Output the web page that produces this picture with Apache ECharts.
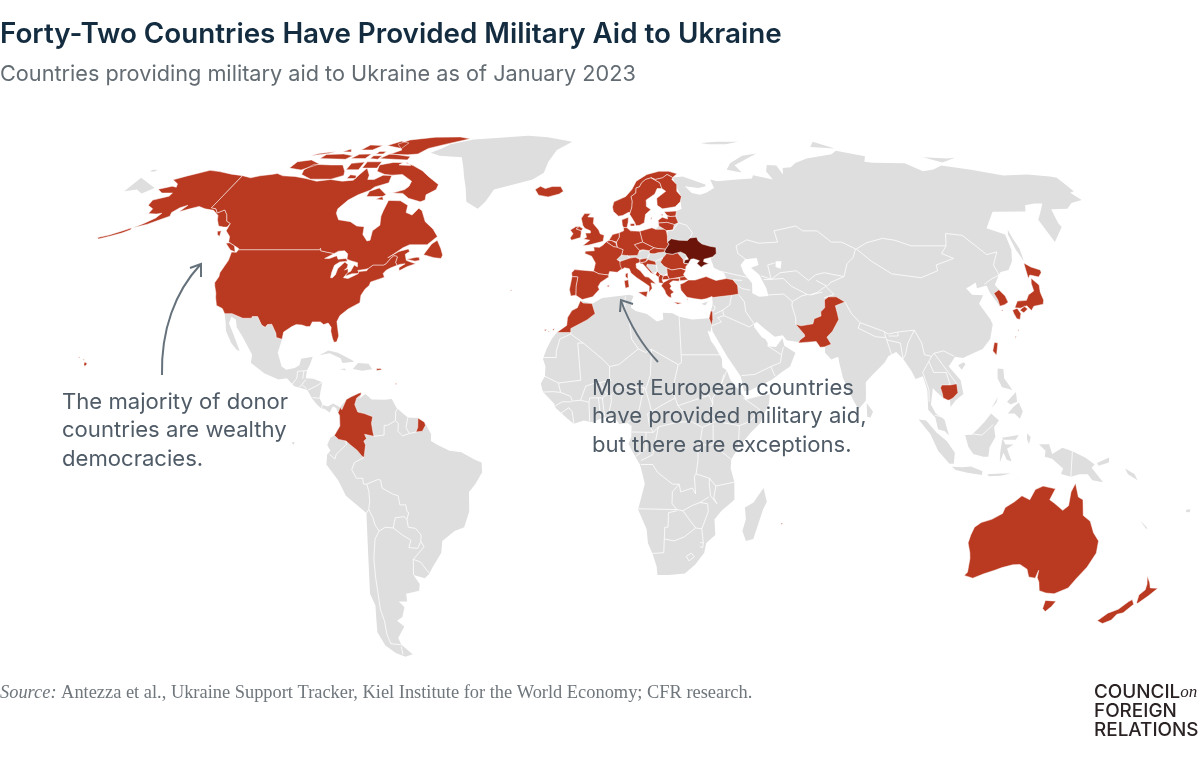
<!DOCTYPE html>
<html>
<head>
<meta charset="utf-8">
<title>Forty-Two Countries Have Provided Military Aid to Ukraine</title>
<script src="https://cdn.jsdelivr.net/npm/echarts@6/dist/echarts.min.js"></script>
<style>
  html, body { margin: 0; padding: 0; background: #fff; }
  #chart { width: 1200px; height: 758px; }
</style>
</head>
<body>
<div id="chart"></div>
<script>
const greyLand = [
  ['Eurasia', '29,69.1 33,69.4 41,67 41,66.5 38,66 33,66.5 35,64.5 38,64 40.5,64.6 44,66 43.5,68.5 46,68 54,68.5 60,68.8 61,69.8 68,68.5 67,71 68.8,73 72.5,72.8 73,70 74.5,72 78,72.3 81,73.6 87,75 100,76.5 104,77.7 113,75.8 110,74 113,73.7 126,73.5 130,71 135,71.6 140,72.8 150,71.5 160,69.7 170,70 178,69.4 180,69 180,65 178,64.6 179,62.5 174,61.7 170,60 164,59.9 163,58 162,56 162,55 157,51 156,57 159,59 163,61.5 160,61.5 156,61 154,59.3 142,59.2 135.5,54.7 141,53 140.5,49 138,46 135,43.7 132,43.2 130.7,42.3 127.7,39.8 129.4,37 129.4,35.4 126.3,34.4 125,38 125,39.7 121.5,39 122,40.5 119,39.3 118,39 119,37.3 122.5,37.2 120,35 121.8,31 122,29.8 120,26 117,23.5 113.7,22.3 110.5,21.2 108.2,21.5 105.8,19 108.8,15.5 109.2,12 106.7,10.4 105,8.7 105,10.4 103,11 101,12.7 100.2,13.5 99.2,9.3 100.5,7 103,5.5 104.2,1.4 103,2.5 101,3 100.3,6 98.3,8 98.5,13 97.6,16.5 95.3,15.8 94.3,18 92.3,21 90.5,22.7 88,21.7 86.5,20 82,16.5 80.2,15 80,12 79.8,10.3 77.5,8.1 76,10.5 73.5,16 72.8,20 72.7,21.5 70.5,20.8 68.8,22.5 69,24 66.5,25.4 61.5,25.2 57.5,25.7 56.5,27 54,26.6 51,28.8 49,30.4 48,29.9 48,29 50,26.5 51,26 51.6,25 51.5,24.2 54,24 56.3,26.2 56.6,24.3 59.8,22.5 57.8,19 55,17.5 52,15.6 45,12.8 43.5,12.7 42.7,16.5 39,21.5 35,28 34.9,29.5 34.3,31.3 35,33 35.9,35 36,36.8 36,38 36,40 39,40.8 41.5,41.5 41,43 38,44.3 37.5,46.7 39,47.2 38.2,47.1 37,48 30,48 29.3,47 28.3,45.6 27,46 25,45 23,44.5 22.6,43 21,42.3 20,42.8 19.2,43.4 18,43 17,43.2 16,44.5 16,45.2 16.5,46 14,46.7 10,46.7 8,46 6.2,46.3 6.5,47 8,47.6 10,47.7 13,48 15,48.9 17,48.5 18,48 21,48.4 22.5,48.5 24,50 23.8,52 23.7,53.5 24.5,54.5 26,55.5 27,56.5 27.5,58 28,59.4 30,60 30,61 30.5,64 29.5,67'],
  ['Chukotka', '-180,69 -175,67.5 -170,66 -172.5,64.4 -176,65.5 -180,65'],
  ['Africa', '-5.9,35.8 -2,35.1 1,36.5 5,36.9 9.7,37.3 11,37 10.2,35.5 10.1,34 11.5,33.2 15,32.4 18,30.5 20,31 20,32.7 23,32.6 25,31.7 29,31 32.3,31.2 34.2,31.3 34.9,29.5 34.3,27.8 33.1,28.3 32.5,30 33.5,28 34.3,25.5 35.5,24 37.3,21 37.3,18.8 38.6,18 39.6,15.5 42,13 43.2,11.6 44,10.5 47,11.2 51.2,11.9 50.8,9.5 48,4.5 45,2 41.5,-1.7 39.4,-4.7 39.3,-7 40.5,-10.5 40.7,-15 37,-17.8 35,-20 35.5,-24 32.9,-26 32.5,-28.5 30,-31.5 27,-33.8 22,-34.2 18.4,-34.2 18,-32 16.5,-28.7 15,-26 14.5,-22.5 11.8,-17.5 13.7,-11 13,-8.5 12.2,-6 9.5,-2 8.8,-0.7 9.6,1 9.7,3.8 8.5,4.6 6,4.3 4.5,6.3 1.2,6 -2,4.8 -4.5,5.2 -7.5,4.4 -9.3,5.6 -13,8.5 -13.4,9.5 -15,11 -16.8,12.5 -17.5,14.7 -16.3,16.5 -16.2,19 -17,21 -16,23.5 -14.5,26 -13,27.7 -10,29.5 -9.8,31.5 -8.5,33.3 -6.8,34'],
  ['Madagascar', '49.3,-12 50.5,-15.5 49.5,-17.5 47.2,-25 45,-25.5 43.7,-23 44.5,-20 44,-17 46.5,-15.7'],
  ['Mexico and Central America', '-117.1,32.5 -114.8,32.5 -111,31.33 -108.2,31.33 -108.2,31.75 -106.5,31.75 -104.5,29.6 -103.2,29 -102.7,29.7 -101.4,29.8 -99.5,27.5 -99.1,26.4 -97.2,25.95 -97.8,22.5 -96,19 -94.5,18.2 -92,18.6 -90.7,19.3 -90.4,21 -87,21.5 -87.5,19.5 -88.2,18 -88.3,16 -86,15.9 -83.2,15 -83.7,11 -82.5,9.2 -81,8.8 -79.5,9.6 -77.3,8.6 -77.9,7.2 -78.5,8.4 -79.5,8.9 -80.4,7.3 -82,8.2 -83,8.3 -84.5,9.5 -85.8,10.8 -87.5,13 -89.5,13.5 -91.5,14 -94,16 -96.5,15.7 -101,17.3 -105.5,20 -105.5,22 -108,25 -109.5,26.6 -112,29 -113,31 -114.7,31.7 -114.7,30 -112.7,27.5 -110.5,24.5 -109.5,23 -110.5,23.3 -112.5,25 -115,28 -116,30.5'],
  ['Cuba', '-85,21.9 -82.5,23.1 -79.5,22.5 -75,20.7 -74.2,20.2 -77.7,19.9 -78.5,21.1 -82,22.4'],
  ['Hispaniola', '-74.4,18.4 -71.5,17.9 -68.5,18.3 -69.8,19.7 -73,19.9'],
  ['Jamaica', '-78.3,18.3 -76.3,18 -76.9,18.5'],
  ['South America', '-77.3,8.6 -75.6,10.6 -72,12.2 -71.3,11.8 -71.8,10.8 -70,12 -68,10.6 -64,10.5 -62,10.7 -60.5,8.5 -58.5,7 -57,6 -54,5.9 -52,4.8 -50,1.8 -50,0 -48,-1 -44.5,-2.5 -41,-2.9 -37,-4.8 -35,-5.5 -34.9,-8 -37,-11 -39,-13 -39.2,-18 -41,-22 -44,-23 -48,-25.5 -48.7,-28.5 -52,-32.2 -53.5,-34 -55,-35 -58.4,-34.2 -57,-36.5 -57.6,-38.2 -62,-39 -62.3,-41 -65,-41 -63.7,-42.5 -65.3,-45 -67.5,-46 -65.7,-47.5 -69,-50.5 -68.4,-52.3 -65.2,-54.8 -68,-55.5 -71,-54.5 -74,-52.5 -75.5,-49 -74,-45 -73,-42 -73.6,-39 -71.5,-30 -70.3,-18.4 -76,-14 -78,-10 -81.3,-6 -81,-3.5 -80,-2.5 -80.9,-1 -80,0.8 -78.8,1.4 -77.2,3.8 -77.4,6.5 -77.9,7.2'],
  ['Greenland', '-73,77 -68,76 -58,75.5 -55,72 -53,69 -51,66 -49,62 -44,60 -42,62 -40,65.5 -33,67 -26,68.5 -22,70.5 -21,74 -18.6,78 -12.5,81 -25,83 -35,83.6 -50,82.7 -60,82 -68,80 -70,78.5'],
  ['Sumatra', '95.3,5.5 97.5,5.2 100.5,2.2 103.5,0 106,-3 105.8,-5.8 104.5,-5.8 101,-2.5 98.7,1.7'],
  ['Java', '105.3,-6.6 108.5,-6.7 111,-6.5 114.5,-7.7 114.4,-8.7 110,-8.1 106.5,-7.4'],
  ['Borneo', '109,1.5 111,1.6 113,3.2 115,5 117,7 119.2,5.2 117.7,3.5 118,1 116.3,-1.6 116,-4 114.5,-4 111.5,-3.3 110,-1.5'],
  ['Sulawesi', '119.5,-5.5 120.5,-3 121.5,-4.8 123,-5.2 121.5,-2 123.4,-0.9 121,-0.9 120,0.8 125,1.5 124,0.3 120,0.3 119.5,-3'],
  ['Timor', '123.5,-10.3 127,-8.4 125,-9.5'],
  ['Flores', '116,-8.5 120,-8.3 123,-8.3 120,-8.9 116.5,-9'],
  ['Halmahera', '127.5,2 128.5,1 128,-0.8 127.4,0.5'],
  ['New Guinea', '131,-0.8 134,-0.8 135,-3.3 138,-1.7 141,-2.6 145,-4.3 147.8,-6 147,-6.8 150.8,-10.5 147.5,-10 146,-8.5 143.5,-8.5 141,-9.1 138,-8.4 138.5,-7 135,-4.5 132.8,-4 133,-2.5'],
  ['New Britain', '148.5,-5.6 152,-4.2 152,-5.5 149,-6.3'],
  ['Luzon', '120.5,18.5 122.2,18.4 122,16 124,13 121,13.7 120,16'],
  ['Mindanao', '122,7 123.8,8.7 125.5,9.8 126.5,7.5 125.5,5.7 124,7'],
  ['Visayas', '122,10 125,12.5 125,10 123,9.3'],
  ['Palawan', '117.2,8.4 119.5,11.3 118.8,9.8'],
  ['Hainan', '108.7,19.3 110.5,20.1 111,19.6 109.6,18.2'],
  ['Sri Lanka', '80,9.7 81.8,7.5 81,6 80,6.2'],
  ['Sakhalin', '142,46 143.5,49.2 143,52 142.7,54.3 142,53 142,49'],
  ['Novaya Zemlya', '51.5,71.5 57,70.6 55.5,72.9 68,76.8 61,76 54,73.5'],
  ['Franz Josef Land', '47,80.5 55,81 65,81 58,80 50,80'],
  ['Severnaya Zemlya', '95,79 105,78.5 100,81'],
  ['New Siberian Islands', '137,75.5 146,75 150,75.3 142,73.8'],
  ['Wrangel', '-180,71.5 -178,71.5 -178,70.9 -180,70.9'],
  ['Cyprus', '32.3,35 34.5,35.6 33.5,34.6'],
  ['Kaliningrad', '19.8,54.4 22.8,54.4 21,55.3'],
  ['New Caledonia', '164,-20.2 167,-22.3 166.4,-22.3'],
  ['Fiji', '177.3,-17.5 178.6,-17.5 178.4,-18.2 177.3,-18.1'],
  ['Solomon Islands', '157,-7 160,-8.5 161,-10 158,-8.5'],
  ['Galapagos', '-91.5,-0.3 -90.5,-0.3 -91,-1']
];
const waterBodies = [
  ['Caspian Sea', '47,45 49,46.5 53,46.8 53,45 51,44.5 50.3,44.3 52.5,42.5 53,41 53.8,39 54,37 51,36.8 49,37.7 49.5,40.3 47.5,43'],
  ['Aral Sea', '59,46 61,46 60,44 58.5,44.5']
];
const donorShapes = [
  ['United States', '-124.7,48.4 -123,48.3 -122.8,49 -95.2,49 -95.1,49.4 -94.6,48.7 -92,48.3 -89.6,48 -92.1,46.7 -90.5,46.7 -88.4,47.4 -87.5,46.5 -85,46.7 -84.5,46.45 -84.1,46 -84.8,45.9 -86.5,45.8 -87.8,44.9 -87.8,43 -87.5,41.7 -86.9,41.7 -86.3,42.5 -86.3,44 -85.5,45 -84.8,45.75 -83.4,45.1 -83.3,44.3 -83.9,43.7 -82.9,44.05 -82.4,43 -83.1,42.2 -83.3,41.7 -81.7,41.5 -79,42.7 -79,43.3 -76.5,43.5 -76.2,44.1 -75,45 -71.5,45 -70.9,45.3 -70.3,46.2 -70,46.7 -69.2,47.45 -68.3,47.35 -67.8,47.1 -67.8,45.7 -67,44.9 -69,44.2 -70.2,43.6 -70.8,42.8 -70,41.8 -71.4,41.4 -74,40.6 -74.1,39.7 -75.1,38.8 -75.9,37.2 -75.6,35.3 -77,34.6 -78.8,33.7 -80.9,32 -81.4,30.5 -80.6,28.4 -80,26.8 -80.3,25.3 -81.1,25.2 -81.8,26.2 -82.7,28 -82.8,29 -84,30.1 -85.3,29.7 -86.5,30.4 -89,30.4 -89.4,29.2 -90.5,29.2 -92,29.6 -93.8,29.7 -95,29.2 -97.2,27.8 -97.2,25.95 -99.1,26.4 -99.5,27.5 -101.4,29.8 -102.7,29.7 -103.2,29 -104.5,29.6 -106.5,31.75 -108.2,31.75 -108.2,31.33 -111,31.33 -114.8,32.5 -117.1,32.5 -118.4,33.8 -120.6,34.6 -121.9,36.6 -122.5,37.8 -123.8,39.5 -124.4,40.4 -124.1,42 -124.5,43 -124,46.2',
    '-141,69.65 -141,60.3 -139,60 -137.5,58.9 -135.5,59.7 -133.5,58.4 -131.8,56.6 -130,56 -130.2,55 -131.5,55 -133.5,55.3 -135.5,57 -136.5,58.2 -139.5,59.6 -143,60 -146,60.7 -148.5,60 -151.5,59.2 -150.5,61 -152.5,60.3 -154,59 -153.5,58 -156,57 -159,55.8 -163,54.8 -160.5,56 -158,57.5 -157.3,58.8 -159,58.6 -162,58.7 -162,60 -165,61 -165.5,62.5 -161,63.6 -161,64.5 -165,64.5 -168,65.6 -164,66.5 -162,66.2 -163,67.2 -166.5,68.4 -163,69.5 -156.5,71.3 -152,70.9 -146,70.1',
    '-163.5,54.8 -166.5,53.9 -170,52.9 -173.5,52.2 -173,51.8 -169,52.7 -166,53.4 -163.5,54.3',
    '-155.9,20.2 -155,19.7 -155.6,19 -156,19.6', '-158.2,21.3 -157.7,21.5 -157.8,21.2', '-156.7,20.9 -156,20.7 -156.4,20.6',
    '-67.2,18 -65.6,18.2 -66,18.5 -67.2,18.5'],
  ['Canada', '-141,69.65 -137,69 -134,69.6 -130,70 -128,70.3 -125,69.6 -120,69.4 -115,68.8 -110,68 -105,68.5 -100,68 -96,68.3 -95,70 -94,72 -91,69.8 -90.5,68.5 -88,68.5 -85.5,69.8 -82,69.7 -81.5,67.5 -86,66.3 -87,65.3 -90.5,64 -93,62.5 -94.8,60 -94.5,58.8 -92.5,57 -88,56.5 -85,55.3 -82.3,55.1 -82,53 -80,51.3 -79,51.5 -79,52.5 -79,54 -77,55.5 -78,58 -78,59.5 -78,62.4 -73.5,62.3 -70,61 -69.5,59 -67,58.3 -65.5,60.2 -64,59.5 -61.5,56.5 -58,54.5 -56,52.5 -59,50.3 -65,50.3 -67,49.5 -69.5,47.8 -70.7,47 -71,46.9 -68,48.5 -65,49.2 -64.3,48.5 -65.5,47.8 -64.5,46.2 -63,45.8 -61,45.3 -63.5,44.6 -65.8,43.5 -66.2,44.3 -64.5,45.3 -66,45.2 -67,44.9 -67.8,45.7 -67.8,47.1 -68.3,47.35 -69.2,47.45 -70,46.7 -70.3,46.2 -70.9,45.3 -71.5,45 -75,45 -76.2,44.1 -77,43.9 -79.5,43.6 -79,43.2 -79,42.8 -81,42.7 -83,42.1 -82.5,43 -81.7,43.4 -81.3,45 -80,44.5 -80.5,45.6 -83,46.1 -84.5,46.5 -85,47.9 -86.5,48.7 -88.5,48.6 -89.6,48 -92,48.3 -94.6,48.7 -95.1,49.4 -95.2,49 -122.8,49 -123,49.3 -125,50 -127.5,51 -128,52.5 -130,54 -130,56 -131.8,56.6 -133.5,58.4 -135.5,59.7 -137.5,58.9 -139,60 -141,60.3',
    '-123.5,48.4 -125.5,48.9 -128.3,50.7 -127,50.8 -125,50', '-59.3,47.7 -55.5,46.9 -53,46.7 -52.8,47.6 -54,49.3 -55.8,51.5 -57.5,50.5', '-64.5,46.5 -61.5,46 -60,46.2 -60.5,47 -61.5,47',
    '-64.5,62.5 -66,62 -71,63 -74,64.4 -78,64.5 -74,65.5 -73,66.5 -73,68 -78,70 -82,69.8 -85,70 -89,71 -90,73 -85,73.8 -80,73.7 -76,72.8 -71,71.2 -67.5,69.5 -62,67 -62,65.5 -65,64',
    '-118,70 -113,68.6 -105,68.6 -101,69.7 -102,71 -105,73 -110,73 -117,73.2 -119,71.5', '-125.5,72 -120,71.4 -115,73.3 -120,74.6 -125,74',
    '-90,76.5 -82,76.3 -78,76.6 -76,78.5 -70,80 -62,82.3 -68,83.1 -80,83 -90,81.8 -92,80 -87,78', '-92,75 -80,74.6 -80,75.7 -90,76.7',
    '-96,79.5 -88,78.5 -88,80.5 -93,81.3', '-96,72 -90,72 -90,74 -96,74', '-87,63.5 -81,63.5 -80,64 -84,66 -87,65',
    '-117,75 -106,74.8 -105,76 -110,76.6 -117,76.4', '-102,71.5 -97,71.5 -97,73.9 -102,73.5', '-104,75 -98,75 -98,76.6 -103,76.5',
    '-105,78 -100,78 -98,79.5 -104,79.7', '-83,62.7 -80,62.5 -81,63.5', '-123,76 -117,76.8 -115,77.5 -121,76.8', '-133,53.9 -131.7,54 -131.5,52.5 -132.5,53', '-99,68.8 -95.5,68.8 -96,69.7 -98.5,69.9',
    '-96,75 -92.5,74.8 -92.5,76 -96,76', '-112,77.4 -108,77.3 -110,78.3', '-96,77.5 -93,77.5 -93,76.6 -96,76.6', '-82,73 -77,72.8 -79,73.7 -81,73.7'],
  ['Iceland', '-24.3,65.5 -22.7,63.9 -19,63.4 -15,64.2 -13.5,65 -14.7,66.4 -18,66.4 -20.5,65.8 -22.5,66.5'],
  ['Norway', '5.2,59.3 7,58 8.5,58.2 10.5,59 11.3,59.1 12,60.5 12.3,62.2 12,63.5 13.9,64.5 14.2,66 15.5,66.3 16.5,67.5 18.2,68.5 20.5,69 22,68.5 25,69 27,70 29,69.1 31,70.2 28,71 24,71 19,70 14.5,68 12.5,65.5 10,63.5 5.5,62 4.9,60.5'],
  ['Sweden', '11.3,59.1 11,58.5 12.6,56.3 13,55.4 14.3,55.5 16,56.2 16.7,58.5 18.8,59.8 17.3,60.7 17.5,62.5 21,64.2 22.2,65.8 24,65.8 23.6,67.5 20.5,69 18.2,68.5 16.5,67.5 15.5,66.3 14.2,66 13.9,64.5 12,63.5 12.3,62.2 12,60.5', '18.2,57 19,57.9 18.8,57.3'],
  ['Finland', '24,65.8 25.3,65 21.5,63 21.3,61 23,60 25.5,60.3 27.8,60.6 30,62 30.8,63.5 29.5,65 30,67 28.5,68.5 29,69.1 27,70 25,69 22,68.5 20.5,69 23.6,67.5'],
  ['Denmark', '8.2,55.5 8.1,57 10.5,57.7 10.3,56.3 10,55.5 9.8,54.85 8.6,54.9', '11,55.3 12.5,55.3 12.5,56 11,55.9'],
  ['Estonia', '23.5,59.2 28,59.4 27.4,58 25.5,57.9 24.4,58.2', '22,58.3 23,58.6 22.8,58.2'],
  ['Latvia', '21,56.1 21,56.9 22.6,57.7 24.4,57.2 24.4,58 25.5,57.9 27.4,58 28,56.2 26.5,55.7 24,56.3'],
  ['Lithuania', '21,56.1 24,56.3 26.5,55.7 25.8,54.2 23.5,54 22.8,54.4 21,55.3'],
  ['Poland', '14.2,53.9 18.5,54.8 19.8,54.4 22.8,54.4 23.5,54 23.7,52.6 23.6,51 24,50.4 22.7,49.1 20,49.3 18.8,49.5 16.5,50.4 15,51 14.6,52.5'],
  ['Germany', '7,53.5 8.6,54 8.6,54.9 9.8,54.85 11,54 14.2,53.9 14.6,52.5 15,51 12.2,50.3 13.8,48.8 13,47.5 10,47.4 7.6,47.6 8.2,49 6.3,49.5 6,51 7,52.3'],
  ['Netherlands', '3.4,51.4 4.7,53 7,53.5 7,52.3 6,51 5.8,50.8 4.3,51.4'],
  ['Belgium', '2.5,51.1 3.4,51.4 4.3,51.4 5.8,50.8 6.2,49.6 4.9,49.8'],
  ['France', '2.5,51.1 4.9,49.8 6.2,49.6 8.2,49 7.6,47.6 6,46.4 7,45.9 7.6,44 7.5,43.8 6,43.1 3.5,43.3 3.1,42.4 0,42.7 -1.8,43.4 -1.2,45.5 -2.5,47.3 -4.8,48 -4.6,48.6 -1.6,48.7 -1.8,49.7 0.2,49.6 1.5,50.3',
    '8.6,42 9.4,41.4 9.5,43 8.7,42.7', '-54,5.9 -52,4.8 -51.7,4 -52.6,2.5 -54.5,2.3 -54,3.5', '55.2,-21 55.8,-21 55.5,-21.4', '-61.8,16 -61.2,16.3 -61.5,16.5', '-61.2,14.5 -60.8,14.5 -61,14.9'],
  ['Spain', '-9,43 -8,43.8 -1.8,43.4 0,42.7 3.1,42.4 3.2,41.9 0.5,40.5 -0.3,39.4 0.1,38.7 -2,36.8 -5.3,36.1 -6.3,36.6 -7.4,37.2 -7.4,39.5 -6.9,41.9 -8.8,42',
    '2.4,39.6 3.4,39.8 3.1,39.3', '-16.9,28.4 -16.2,28.5 -16.5,28', '-15.8,28 -15.3,28.1 -15.5,27.8', '-14.3,28.5 -13.8,28.7 -14,28.1'],
  ['Portugal', '-8.8,42 -6.9,41.9 -7.4,39.5 -7.4,37.2 -9,37 -9.5,38.7', '-28.5,38.5 -27.9,38.6 -28.2,38.3', '-17.2,32.7 -16.6,32.8 -16.9,32.6'],
  ['United Kingdom', '-5.6,50 -3.5,50.2 1.4,51.2 1.8,52.8 0.4,53.2 -0.1,54.2 -1.5,55.5 -2,56 -1.8,57.7 -4,57.8 -3,58.7 -5.2,58.7 -6.3,57.4 -5.7,55.5 -5,54.7 -3,54 -3,53.4 -4.7,53.4 -4.3,52.3 -5.4,51.8 -3.2,51.5',
    '-5.6,54.6 -7,55.2 -8,54.5 -6.2,54'],
  ['Ireland', '-6.2,54 -6.2,53.3 -6.4,52.2 -9.5,51.5 -10,52.1 -9,53.2 -10,54.2 -8.2,55.1 -7,55.2 -8,54.5'],
  ['Italy', '7,45.9 8.5,46.3 10.4,46.8 12.2,47 13.7,46.5 13.7,45.7 12.3,45.3 12.4,44.2 13.6,43.5 15,42 16.2,41.8 18.5,40.1 18.2,39.9 16.8,40.4 17.1,39 16,37.9 15.7,38 16.2,39.5 15,40.2 12.3,41.7 10.5,42.9 10,44 8.5,44.3 7.5,43.8 7,45',
    '12.5,38 15.6,38.2 15.1,36.7', '8.2,40.9 9.5,41.2 9.7,39.3 8.5,39'],
  ['Slovenia', '13.7,46.5 16.3,46.8 15.5,45.8 13.7,45.5'],
  ['Croatia', '13.6,45.3 14.5,45.3 17,43 18.5,42.5 17.6,43 15.8,44.7 16,45.2 19,45 18.8,45.9 16.5,46.4 15.5,45.8 14,45.6'],
  ['Czech Republic', '12.2,50.3 15,51 16.5,50.4 18.8,49.5 17,48.7 15,49 13.8,48.8'],
  ['Slovakia', '17,48.7 18.8,49.5 20,49.3 22.7,49.1 22.2,48.4 20,48.2 18.7,47.9 17.2,48'],
  ['Romania', '22.9,48 24.9,47.8 26.6,48.2 28.2,46.5 28.2,45.5 29.6,45.2 28.8,44.6 28.6,43.8 27,44.1 24,43.7 22.6,44.2 21.5,44.7 20.5,45.7 21.5,46.9'],
  ['Bulgaria', '22.4,44.2 24,43.7 27,44.1 28.6,43.6 27.7,42.6 28,42 26.3,41.8 24,41.5 22.9,41.3 22.4,42.3'],
  ['North Macedonia', '20.5,41.2 22.9,41.3 22.4,42.3 21,42.2'],
  ['Albania', '19.4,41.8 20,42.6 21,42.2 20.5,41.2 20.9,40.2 19.4,40.4'],
  ['Montenegro', '18.5,42.5 19.4,41.8 20,42.6 19.2,43.4'],
  ['Greece', '20,39.6 20.9,40.5 22.9,41.3 24,41.5 26.3,41.6 26,40.8 24,40.9 22.8,40.3 23.3,39.5 22.8,38.9 24,38 23,37.5 23,36.5 22,36.9 21.3,37.7 21.1,38.4 20.3,39.4',
    '23.6,35.5 26.3,35.2 24.8,34.9', '26,39.3 26.6,39.3 26.3,38.9', '27.8,36.1 28.2,36.4 28,35.9', '25,37.2 25.6,37.1 25.3,36.9'],
  ['Turkey', '26.2,40 27.5,40.4 29,41.1 31.2,41.1 35,42 38,41 41.5,41.5 43.5,41.2 44.7,39.7 44.5,37.5 42.3,37.2 38,36.8 36.2,36.6 36,36.9 34,36.3 32.5,36.1 30.5,36.3 28,36.7 27.2,37.5 26.3,38.5',
    '26.3,40.9 26.3,41.8 28,42 29,41.2 27.3,41'],
  ['Morocco', '-5.9,35.8 -5,35.2 -2.2,35.1 -1.2,32.5 -3.7,30.9 -8.7,28.7 -8.7,27.7 -13,27.7 -10,29.5 -9.8,31.5 -8.5,33.3 -6.8,34'],
  ['Israel', '34.3,31.3 34.9,29.5 35.4,31 35.6,33.2 35,33.1'],
  ['Pakistan', '61,25 62,25.1 66.5,25.4 67.5,23.9 68.8,24 71,24.7 70,26.5 72,28 74.6,31 74.6,32.5 74.5,34.5 77.8,35.5 75.5,36.8 73,36.8 71.5,36 71,34 69.5,33 69.3,31.9 67,31.2 66.3,29.9 62.5,29.4 60.9,29.8 63.2,27.2 63.2,26.7 61.6,25.8'],
  ['Japan', '130.8,34 132.5,35.7 135.5,35.9 137,37.3 139.3,38.3 139.8,40.3 140.8,41.6 142,39.8 141.2,38 141,36 140.2,34.9 137,34.4 135.7,33.3 134.8,34.5 132.5,33.9',
    '139.8,41.5 141.5,45.5 143,44.5 145.5,43.7 145.2,43 143.5,41.9 141,42.4', '129.8,33.4 131.5,33.9 132,32.5 131,31 130.1,31.2 129.8,32.5',
    '132.1,33.4 134,34.4 134.7,33.7 133,32.7', '127.6,26.1 128.3,26.8 127.9,26.7', '129.2,28.2 129.6,28.5 129.4,28'],
  ['South Korea', '126.2,37.7 128.3,38.6 129.4,37 129.4,35.4 128,34.8 126.3,34.4 126.5,36', '126.2,33.4 126.9,33.5 126.6,33.2'],
  ['Taiwan', '121,25.2 122,25 120.9,21.9 120,23'],
  ['Cambodia', '102.5,13.6 103,14.3 105.5,14.3 107.5,14.6 107.6,12.3 106,11 105,10.5 104.4,10.4 103,11 102.9,12'],
  ['Colombia', '-77.3,8.6 -76.8,8 -75.6,10.6 -74.2,11.3 -72,12.2 -71.3,12.4 -71.3,11.8 -72.5,11 -73,9.3 -72,7.4 -70,7 -67.5,6.2 -67.8,4.5 -67.3,2.2 -67,1.2 -69.8,1.7 -69.2,0.6 -70,0 -69.5,-1 -70,-4.2 -70.7,-3.8 -72,-2.4 -74,-1 -75.3,0 -77.5,0.4 -78.8,1.4 -77.2,3.8 -77.4,6.5 -77.9,7.2'],
  ['Australia', '114.2,-22 113.5,-24 113.2,-26 114.5,-28.5 115,-30 115.7,-33.5 115,-34.3 118,-35 121,-33.9 124,-33 126,-32.3 129,-31.6 131.2,-31.5 134,-32.7 135.5,-34.7 137.7,-35 137.8,-33 138.3,-34.9 139.5,-36 141,-38.2 143.5,-38.8 146.3,-39 149.8,-37.5 150.8,-35 152.5,-32.2 153.6,-28.6 153,-25.5 150.8,-23.4 149,-20.5 146.5,-19 145.5,-15 144,-14.3 142.6,-10.8 141.6,-13 141.5,-16.5 140,-17.7 137,-15.8 135.5,-15 136.8,-12.2 133,-11.5 130.8,-12.4 129.5,-15 127,-14 125,-15.5 122.5,-17 122,-18.5 119,-20 116,-20.8',
    '144.7,-40.7 148.3,-40.9 148,-42.3 147,-43.6 145.5,-42.8'],
  ['New Zealand', '172.7,-40.5 174.3,-41.7 173,-43.9 171.3,-44.3 171,-45.8 169,-46.7 166.5,-46 168,-44 170.5,-43 172,-41',
    '172.7,-34.4 174.8,-36.2 176,-37.5 178.5,-37.6 177,-39.6 175.3,-41.6 174.8,-41.2 173.8,-39.3 174.8,-38 174.2,-36.5']
];
const invadedShapes = [
  ['Ukraine', '22.2,48.4 22.7,49.1 24,50.4 23.6,51 25,51.9 27.5,51.5 30.5,51.4 31.5,52.1 33.8,52.3 34.2,51.3 35.4,50.5 38,49.9 40,49.6 39.7,48 38.2,47.1 35.2,46.5 34.9,45.9 36.5,45.3 35,45 33.8,44.4 32.6,45.4 33.6,46.1 31.8,46.6 30.8,46.5 29.7,45.3 28.3,45.5 28.8,46.3 30,46.5 29.2,47.8 27.7,48.4 26.6,48.2 24.9,47.8 22.9,48']
];
// land borders between the grey countries
const borderLines = [
  '-92.2,14.5 -91,16 -91,17.8 -89.1,17.9 -88.2,18', '-89.1,17.9 -89.2,15.9', '-88.2,15.7 -89.3,14.4 -90,13.7', '-87.3,13 -85,14 -83.2,15', '-89.3,14.4 -87.8,13.4', '-85.7,11.1 -83.7,10.9', '-82.6,9.5 -82.9,8.1',
  '-60,8.5 -60.7,7.5 -60.7,5.2 -63,4 -64,4 -64,1.5 -67,1.2', '-60.7,5.2 -59.8,4.5 -59.9,2.5 -58.5,1.3 -56.5,1.9 -54.5,2.3', '-57,6 -57.5,3.5 -56.5,1.9',
  '-70,-4.2 -72.9,-5.5 -73.8,-7.3 -72.5,-9.5 -70.6,-9.5 -70.5,-11 -69.5,-11 -66,-9.8 -65.3,-10 -65,-12 -62,-13.5 -60.3,-14 -60,-16.3 -58.2,-16.3 -58,-18 -57.5,-18.3 -58.2,-20',
  '-69.5,-11 -69,-13 -69,-15.5 -69.5,-17.5 -70.3,-18.4', '-69.5,-17.5 -68.5,-19.5 -68,-21.5 -67,-23 -65,-22 -62.6,-22.2 -61.7,-19.6 -59,-19.3 -58.2,-20 -58,-22 -55.8,-22.3 -54.3,-24 -54.6,-25.6',
  '-62.6,-22.2 -60,-24 -57.6,-25.3 -58.5,-27.2 -55.8,-27.4 -54.6,-25.6 -53.8,-27 -57.6,-30.2 -58.4,-34.2', '-57.6,-30.2 -55.5,-30.9 -53.4,-33.7',
  '-67,-23 -68.5,-25 -69.8,-30 -70.5,-35 -71,-39 -71.8,-43 -71.7,-46 -72.5,-49.5 -72,-52 -68.4,-52.3', '-68.6,-52.7 -68.6,-54.9', '-75.3,0 -75.2,-0.9 -78.3,-3.4 -78.7,-4.6 -80.3,-3.4',
  '8.4,36.9 8,33 9.5,30.2 10,26 12,23.5 14.2,22.6 16,23.4 24,19.5 25,20 25,22 25,31.7', '25,22 37,22', '12,23.5 6,19.5 3.2,19 1.2,20.8 -4.8,25 -8.7,27.3 -8.7,27.7', '-4.8,25 -6.5,25 -5.5,15.5 -12.2,14.8 -16.3,16.5',
  '-8.7,27.3 -12,26 -13,23 -13,21.3 -17,21.3', '-12.2,14.8 -11.5,12.4 -8.5,11.4 -8,10.2 -5.5,10.4 -3,9.9 -2.8,5.1', '-11.5,12.4 -13.7,12.6 -16.8,12.5', '-13,9 -11,10 -8.2,10', '-11.5,7 -9,8.5 -8,7.5 -7.5,4.4',
  '-5.5,10.4 -4,14 -0.5,15 0.2,14.9 2,12.3 2.8,12', '3.2,19 3.2,16 3.6,15.5 0.2,14.9', '-3,9.9 -2.8,11 1,11 2.3,11.8', '-0.2,11.1 0.5,6.2', '1.7,6.2 1,11', '2.7,6.4 3.7,10 3.6,11.7 6,13.7 13.5,13.7 14,13 15,10 15.7,7.5 14.5,7 15,4 16.2,2.2',
  '8.6,4.7 12,8 13.5,13.7', '14,13 15.5,16.9 16,23.4', '9.8,2.3 16.2,2.2 17.7,3.6 16,-3.5 12.5,-5', '14,2.2 14,-2 11,-3.9', '15.7,7.5 18.5,9 22.8,11 23.6,9 27.4,5 23,4.7 17.7,3.6', '24,19.5 22,13 22.8,11', '23.6,9 27,10 33,11.7 34,9.5 33,7.5 35,5 41.8,3.9 41.5,-1.7',
  '37.7,17 36.5,14 34,11 34,9.5', '27.4,5 30.8,3.5 35,5', '34,4.2 34,-1 39.4,-4.7', '34,-1 30,-1 30.8,3.5', '41.8,3.9 45,5 48,8 43.2,11', '38.6,18 36.5,14 40,14.7 43.2,12.4',
  '12.5,-6 16,-6 17.5,-8 22,-11 24,-11 24.5,-13 28,-12 29,-13.5 28.5,-9 29,-8.4 29.5,-5 29.5,-1', '24,-11 22,-13 22,-16 23.5,-17.5 11.8,-17.3', '20,-22 20,-28.5 16.5,-28.7', '23.5,-17.8 21,-18.3 21,-22 20,-22', '20,-25 23,-25.5 26,-24.5 29.4,-22.2 31.3,-22.4 32,-26',
  '25.3,-17.8 29.4,-22.2', '31.3,-22.4 33,-18 32.7,-16 30.4,-15.7 28,-16.5 25.3,-17.8', '23.5,-17.5 25.3,-17.8', '33,-9.5 35,-11.5 34.5,-14.5 35.5,-16 33.5,-14 33,-11 33,-9.5', '34.9,-11.5 40.5,-10.5', '30.4,-15.7 33,-14.3', '29,-8.4 33,-9.5',
  '27,-29.5 28.5,-28.6 29.5,-29.5 28,-30.6 27,-29.5', '31,-25.9 32,-26 31.9,-27.2 31,-27',
  '42.3,37.2 41.2,34.7 38.8,33.4 36,32.3', '38.8,33.4 39,32 37,31.5 38,30.4 35,29.4', '39,32 46.5,29.1 48,29.9', '44.7,37.2 46,35.5 46,33 48,30', '43,16.7 47,17 52,19 55,20 55.5,22 56.3,24', '51.5,24.3 55.5,22', '52,19 53,16.6', '35.9,34.6 36.6,34.2 36,33.2 35.6,33.2',
  '61,29.8 61.3,31.5 60.8,34.5 61.2,35.6 59,37.5 54,37.3', '49.5,46.2 47,48 47,50 51,51.6 55,50.7 61.5,51 61,54 69,55.3 71,54 76,54 80,51 83.5,51 87.5,49.2 85.5,47 82.5,45.3 80,42 75,40.5 73.7,39.6',
  '53,42.2 56,41.3 56,45 58.5,45.5', '56,41.3 59.5,43 65,43.5 68,41 71,42.5 74,43 80,42', '53.5,41.2 56,41.3 60,41.5 62,39.5 66.5,37.4', '70.5,41 73.5,39.5', '67.5,37.3 70,38 73,39.5 75,37.4 71.5,36.5', '61.2,35.6 64.5,37 66.5,37.4 67.5,37.3 71.5,38',
  '77.8,35.5 79,32.5 81,30.2 88,27.9 89,27.3 92,27.8 97.3,28.3 94.5,25 93.2,22 92.3,21', '80.1,28.8 81,30.2', '88,27.9 88,26.4 85,26.6 80.1,28.8', '89,26.8 92,26.8 92,27.8', '88.1,26.4 89,22', '88.2,25.8 92.2,25 92.3,21',
  '97.3,28.3 98.7,25 99,22 101.1,21.6 102,22.4 105,23 108,21.6', '100,20.3 97.7,17.5 99,13 98.7,10', '101.1,21.6 100,20.3 101,17.5 104.8,17.5 105.5,14.3', '102,22.4 104,19.5 107.5,14.6', '100.2,6.6 102,6.2',
  '87.8,49.2 91,46 96,42.7 105,41.7 111.5,43.5 112,45 119,46.7 116,48 119,50 114,50 107,50 102,51.5 98,52 92,50.8 87.8,49.2', '119,50 120.5,53.3 126,52.8 131,47.7 135,48.4 131,45 131,43 130.7,42.3 128,41.5 124.4,40',
  '39.9,43.4 44,42.6 48.5,41.8', '43.5,41.2 46.5,41', '46,38.9 48.5,38.5', '44.7,39.7 46,38.9', '23.5,54 25.8,54.2 28,56.2', '28,56.2 30.8,55.5 32.5,53.5 31.5,52.1', '19,45 19.2,43.4', '16.3,46.8 17.2,48', '18.8,45.9 21.5,46.9', '10.4,46.8 9.6,47.5',
  '109.6,2 114,1.5 117.5,4.2', '141,-2.6 141,-9.1'
];
const titleText = 'Forty-Two Countries Have Provided Military Aid to Ukraine';
const subtitleText = 'Countries providing military aid to Ukraine as of January 2023';
const noteLeft = 'The majority of donor\ncountries are wealthy\ndemocracies.';
const noteRight = 'Most European countries\nhave provided military aid,\nbut there are exceptions.';
const sourceText = 'Antezza et al., Ukraine Support Tracker, Kiel Institute for the World Economy; CFR research.';

const greyColor = '#dedede';
const donorColor = '#ba3921';
const ukraineColor = '#6b1409';

// Robinson table every 5 degrees, widened a bit above 55 to fit the picture
const robX = [1, .9986, .9954, .99, .9822, .973, .96, .9427, .9216, .8962, .8679, .85, .82, .785, .75, .71, .65, .58, .53];
const robY = [0, .062, .124, .186, .248, .31, .372, .434, .4958, .5571, .6176, .6769, .7346, .7903, .8435, .8936, .9394, .9761, 1];
const centerX = 599, equatorY = 441, lonScale = 3.36, latScale = 316;

function lerpTable(table, lat) {
  const a = Math.min(Math.abs(lat), 90) / 5;
  const i = Math.min(Math.floor(a), 17);
  return table[i] + (table[i + 1] - table[i]) * (a - i);
}
const projection = {
  project: ([lon, lat]) => [
    centerX + lonScale * lon * lerpTable(robX, lat),
    equatorY - latScale * lerpTable(robY, lat) * Math.sign(lat)
  ],
  unproject: ([x, y]) => {
    const v = Math.min(Math.abs((equatorY - y) / latScale), 1);
    let i = 0;
    while (i < 17 && robY[i + 1] < v) i++;
    const lat = (i + (v - robY[i]) / (robY[i + 1] - robY[i])) * 5 * Math.sign(equatorY - y);
    return [(x - centerX) / (lonScale * lerpTable(robX, lat)), lat];
  }
};

const parseRing = s => s.trim().split(/\s+/).map(p => p.split(',').map(Number));
const toFeature = ([name, ...rings]) => {
  const closed = rings.map(parseRing).map(r => r.concat([r[0]]));
  return {type: 'Feature', properties: {name}, geometry: {type: 'MultiPolygon', coordinates: closed.map(r => [r])}};
};
const allShapes = [...greyLand, ...waterBodies, ...donorShapes, ...invadedShapes];
echarts.registerMap('world', {type: 'FeatureCollection', features: allShapes.map(toFeature)});

// map box = projected extent, so the projection's numbers are page pixels
let x0 = 1e9, y0 = 1e9, x1 = -1e9, y1 = -1e9;
allShapes.forEach(([, ...rings]) => rings.forEach(r => parseRing(r).forEach(c => {
  const [px, py] = projection.project(c);
  x0 = Math.min(x0, px); x1 = Math.max(x1, px);
  y0 = Math.min(y0, py); y1 = Math.max(y1, py);
})));

const regionStyles = [
  ...waterBodies.map(([name]) => ({name, itemStyle: {areaColor: '#fff', borderWidth: 0}})),
  ...donorShapes.map(([name]) => ({name, itemStyle: {areaColor: donorColor, borderColor: '#fff', borderWidth: 0.5}})),
  ...invadedShapes.map(([name]) => ({name, itemStyle: {areaColor: ukraineColor, borderColor: '#fff', borderWidth: 0.5}}))
];

const font = 'Inter, "Noto Sans", sans-serif';
const noteStyle = {font: '400 22.1px ' + font, fill: '#4f5b67', lineHeight: 28.5};
const arrowStyle = {stroke: '#65717b', lineWidth: 2, fill: null};

const chart = echarts.init(document.getElementById('chart'), null, {renderer: 'canvas'});
chart.setOption({
  animation: false,
  backgroundColor: '#fff',
  title: [
    {text: titleText, left: 0, top: 21, padding: 0,
      textStyle: {fontFamily: 'Inter', fontWeight: 600, fontSize: 27.8, color: '#142c40'}},
    {text: subtitleText, left: 0, top: 63, padding: 0,
      textStyle: {fontFamily: 'Inter', fontWeight: 400, fontSize: 21.7, color: '#636c73'}}
  ],
  geo: {
    map: 'world', projection, silent: true, roam: false,
    left: x0, top: y0, width: x1 - x0, height: y1 - y0,
    itemStyle: {areaColor: greyColor, borderWidth: 0},
    emphasis: {disabled: true}, select: {disabled: true}, label: {show: false},
    regions: regionStyles
  },
  series: [{
    type: 'lines', coordinateSystem: 'geo', polyline: true, silent: true, z: 3,
    lineStyle: {color: '#fff', width: 0.8, opacity: 1},
    data: borderLines.map(s => ({coords: parseRing(s)}))
  }],
  graphic: [
    {type: 'text', left: 62, top: 388, z: 10, style: {...noteStyle, text: noteLeft}},
    {type: 'text', left: 592, top: 374, z: 10, style: {...noteStyle, text: noteRight}},
    {type: 'bezierCurve', z: 10, shape: {x1: 162, y1: 375, cpx1: 161, cpy1: 330, cpx2: 175, cpy2: 292, x2: 200, y2: 265}, style: arrowStyle},
    {type: 'polyline', z: 10, shape: {points: [[190, 268], [201, 264], [201, 277]]}, style: arrowStyle},
    {type: 'bezierCurve', z: 10, shape: {x1: 658, y1: 362, cpx1: 642, cpy1: 345, cpx2: 630, cpy2: 325, x2: 621, y2: 301}, style: arrowStyle},
    {type: 'polyline', z: 10, shape: {points: [[620, 312], [621, 300], [633, 304]]}, style: arrowStyle},
    {type: 'text', left: 0, top: 684, z: 10, style: {
      text: '{i|Source:} ' + sourceText,
      font: '18.4px "Liberation Serif", serif', fill: '#6f767c',
      rich: {i: {fontStyle: 'italic', fontSize: 18.4, fontFamily: 'Liberation Serif', fill: '#6f767c'}}
    }},
    {type: 'text', left: 1094, top: 683, z: 10, style: {
      text: 'COUNCIL{on|on}\nFOREIGN\nRELATIONS',
      font: '500 18.9px Inter, sans-serif', fill: '#2b2323', lineHeight: 19,
      rich: {on: {fontStyle: 'italic', fontSize: 17, fontFamily: 'Liberation Serif', fill: '#2b2323'}}
    }}
  ]
});
</script>
</body>
</html>
